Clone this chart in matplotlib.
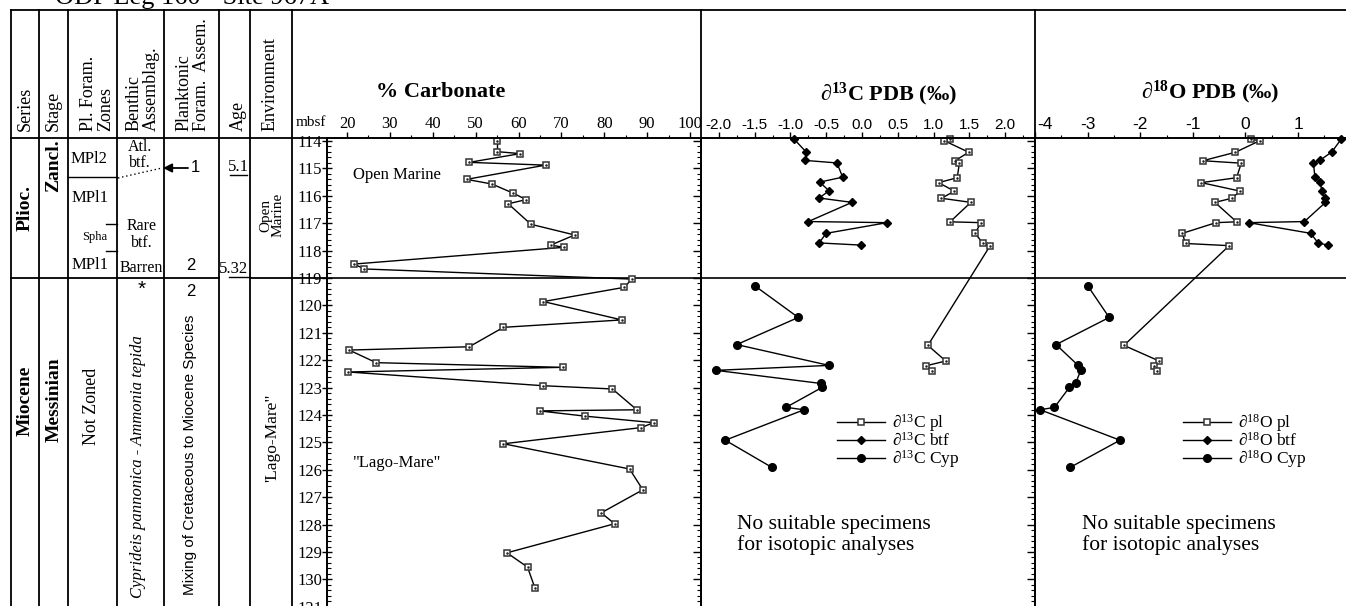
import matplotlib
matplotlib.use('Agg')
import matplotlib.pyplot as plt
from matplotlib.ticker import MultipleLocator, FormatStrFormatter, FuncFormatter

SERIF = ['Liberation Serif', 'DejaVu Serif']
SANS = ['Liberation Sans', 'DejaVu Sans']
plt.rcParams['font.family'] = SERIF
plt.rcParams['axes.unicode_minus'] = False
plt.rcParams['mathtext.fontset'] = 'custom'
plt.rcParams['mathtext.rm'] = 'Liberation Serif'
plt.rcParams['mathtext.it'] = 'Liberation Serif:italic'
plt.rcParams['mathtext.bf'] = 'Liberation Serif:bold'

# ---------------- data ----------------
carb_depth = [114.00, 114.39, 114.46, 114.78, 114.88, 115.40, 115.57, 115.90, 116.14, 116.29,
              117.04, 117.43, 117.80, 117.88, 118.49, 118.67, 119.04, 119.34, 119.86, 120.53,
              120.80, 121.51, 121.63, 122.09, 122.26, 122.43, 122.93, 123.05, 123.81, 123.85,
              124.04, 124.28, 124.46, 125.05, 125.97, 126.73, 127.57, 127.97, 129.03, 129.55,
              130.30]
carb_pct = [55.1, 55.1, 60.4, 48.5, 66.3, 47.9, 53.8, 58.7, 61.8, 57.6,
            62.9, 73.1, 67.5, 70.6, 21.7, 24.0, 86.4, 84.7, 65.8, 84.1,
            56.5, 48.5, 20.5, 26.8, 70.3, 20.3, 65.6, 81.9, 87.6, 64.9,
            75.4, 91.5, 88.6, 56.5, 85.9, 89.0, 79.3, 82.4, 57.3, 62.1,
            63.8]

pl_depth = [113.94, 113.99, 114.41, 114.72, 114.81, 115.34, 115.52, 115.83, 116.09, 116.24,
            116.95, 116.98, 117.37, 117.74, 117.82, 121.46, 122.03, 122.20, 122.38]
d13c_pl = [1.23, 1.15, 1.49, 1.30, 1.36, 1.33, 1.07, 1.29, 1.11, 1.52,
           1.23, 1.66, 1.58, 1.69, 1.79, 0.92, 1.17, 0.90, 0.98]
d18o_pl = [0.11, 0.27, -0.19, -0.81, -0.08, -0.17, -0.84, -0.10, -0.26, -0.58,
           -0.17, -0.56, -1.20, -1.14, -0.31, -2.31, -1.64, -1.74, -1.69]

btf_depth = [113.93, 114.40, 114.71, 114.80, 115.32, 115.50, 115.82, 116.08, 116.24, 116.94,
             116.98, 117.37, 117.72, 117.80]
d13c_btf = [-0.95, -0.78, -0.79, -0.35, -0.27, -0.59, -0.46, -0.60, -0.14, -0.75,
            0.35, -0.50, -0.60, -0.01]
d18o_btf = [1.82, 1.64, 1.41, 1.29, 1.32, 1.42, 1.45, 1.51, 1.52, 1.12,
            0.06, 1.24, 1.38, 1.57]

cyp_depth = [119.28, 120.44, 121.43, 122.19, 122.37, 122.85, 122.99, 123.72, 123.81, 124.92, 125.91]
d13c_cyp = [-1.50, -0.89, -1.75, -0.46, -2.04, -0.57, -0.555, -1.06, -0.81, -1.91, -1.26]
d18o_cyp = [-3.00, -2.59, -3.60, -3.18, -3.13, -3.23, -3.345, -3.63, -3.90, -2.385, -3.33]

boundary_depth = 119.0
carb_ticks = [20, 30, 40, 50, 60, 70, 80, 90, 100]

# ---------------- figure ----------------
W, H = 1346, 606
fig = plt.figure(figsize=(W / 100, H / 100), dpi=100)


def ax_px(l, r, t, b):
    return fig.add_axes([l / W, 1 - b / H, (r - l) / W, (b - t) / H])


tab = fig.add_axes([0, 0, 1, 1])
tab.set_xlim(0, W)
tab.set_ylim(H, 0)
tab.axis('off')

LW = 1.3
def hline(y, x0, x1, **kw):
    tab.plot([x0, x1], [y, y], color=kw.pop('color', 'k'), lw=kw.pop('lw', LW), **kw)


def vline(x, y0, y1, **kw):
    tab.plot([x, x], [y0, y1], color='k', lw=kw.pop('lw', LW), **kw)


# table frame
hline(10, 11, W)
hline(138, 11, 327)
for x in [11, 39, 68, 117, 164, 219, 250, 292]:
    vline(x, 10, H)
for x in [701, 1035]:
    vline(x, 10, 138)
hline(278, 11, 219)
hline(278, 250, 327)
hline(177, 68, 117, lw=1.0)
hline(224, 106, 117, lw=1.0)
hline(251, 106, 117, lw=1.0)
hline(174.5, 230, 247, lw=1.0)
hline(276.5, 229, 250, lw=1.0)
tab.plot([118, 162], [178, 168], color='k', lw=1.0, ls=(0, (1, 2)))
tab.annotate('', xy=(163, 168), xytext=(188, 168),
             arrowprops=dict(arrowstyle='-|>', color='k', lw=1.3, mutation_scale=13,
                             shrinkA=0, shrinkB=0))

# title (cut at top, as in the source figure)
tab.text(55, 4, 'ODP Leg 160 - Site 967A', fontsize=19, ha='left', va='baseline')

# headers
hdr = dict(rotation=90, ha='center', va='bottom', fontsize=13, multialignment='left',
           linespacing=1.05)
tab.text(25, 131, 'Series', **hdr)
tab.text(53, 131, 'Stage', **hdr)
tab.text(97, 131, 'Pl. Foram.\nZones', **hdr)
tab.text(143, 131, 'Benthic\nAssemblag.', **hdr)
tab.text(193, 131, 'Planktonic\nForam.  Assem.', **hdr)
tab.text(238, 131, 'Age', **hdr)
tab.text(270, 131, 'Environment', **hdr)

# body
rot = dict(rotation=90, ha='center', va='center')
tab.text(25, 208, 'Plioc.', fontsize=14, fontweight='bold', **rot)
tab.text(54, 166, 'Zancl.', fontsize=14, fontweight='bold', **rot)
tab.text(25, 401, 'Miocene', fontsize=14, fontweight='bold', **rot)
tab.text(54, 400, 'Messinian', fontsize=14, fontweight='bold', **rot)
tab.text(92, 406, 'Not Zoned', fontsize=13, **rot)
tab.text(138, 467, 'Cyprideis pannonica - Ammonia tepida', fontsize=12, style='italic', **rot)
tab.text(190, 455, 'Mixing of Cretaceous to Miocene Species', fontsize=11, family=SANS, **rot)
tab.text(272, 215, 'Open\nMarine', fontsize=11, linespacing=1.0, multialignment='center', **rot)
tab.text(272, 438, '\'Lago-Mare"', fontsize=12.5, **rot)

c = dict(ha='center', va='center')
tab.text(89, 159, 'MPl2', fontsize=12, **c)
tab.text(90, 198, 'MPl1', fontsize=12, **c)
tab.text(95, 237, 'Spha', fontsize=9, **c)
tab.text(90, 265, 'MPl1', fontsize=12, **c)
tab.text(140, 147, 'Atl.', fontsize=11.5, **c)
tab.text(140, 163, 'btf.', fontsize=11.5, **c)
tab.text(142, 226, 'Rare', fontsize=11.5, **c)
tab.text(142, 243, 'btf.', fontsize=11.5, **c)
tab.text(141, 268, 'Barren', fontsize=11.5, **c)
tab.text(142, 289, '*', fontsize=15, family=SANS, **c)
tab.text(195, 168, '1', fontsize=12, family=SANS, **c)
tab.text(191, 265, '2', fontsize=12, family=SANS, **c)
tab.text(191, 292, '2', fontsize=12, family=SANS, **c)
tab.text(238, 167, '5.1', fontsize=12, **c)
tab.text(234, 269, '5.32', fontsize=12, **c)
tab.text(311, 123, 'mbsf', fontsize=11, **c)

# ---------------- panels ----------------
TOP, BOT = 138, 610
ylim = (119 + (BOT - 278) / 27.4, 119 - (278 - TOP) / 27.4)

ax_c = ax_px(327, 701, TOP, BOT)
ax_13 = ax_px(701, 1035, TOP, BOT)
ax_18 = ax_px(1035, 1356, TOP, BOT)

ax_c.set_xlim(20 - 20 / 4.2875, 100 + 11 / 4.2875)
ax_13.set_xlim((701 - 862) / 71.6, (1035 - 862) / 71.6)
ax_18.set_xlim(-4.0, 2.1)

for ax in (ax_c, ax_13, ax_18):
    ax.set_facecolor('none')
    ax.set_ylim(*ylim)
    ax.spines['bottom'].set_visible(False)
    for s in ('top', 'left', 'right'):
        ax.spines[s].set_linewidth(1.4)
    ax.xaxis.tick_top()
    ax.tick_params(axis='x', which='major', direction='out', length=4, width=1,
                   top=True, bottom=False, labeltop=True, labelbottom=False, pad=0.5)
    ax.tick_params(axis='x', which='minor', direction='out', length=2.5, width=0.8,
                   top=True, bottom=False)
    ax.yaxis.set_major_locator(MultipleLocator(1))
    ax.yaxis.set_minor_locator(MultipleLocator(0.2))
    ax.axhline(boundary_depth, color='k', lw=1.2)

# carbonate axes
ax_c.set_xticks(carb_ticks)
ax_c.xaxis.set_minor_locator(MultipleLocator(5))
ax_c.tick_params(axis='x', labelsize=12)
ax_c.tick_params(axis='y', which='major', direction='inout', length=7, width=1,
                 left=True, right=False, labelleft=True, labelsize=12, pad=0)
ax_c.tick_params(axis='y', which='minor', direction='in', length=3, width=0.8,
                 left=True, right=False)
ax_c.yaxis.set_major_formatter(FormatStrFormatter('%d'))

for ax in (ax_13, ax_18):
    ax.tick_params(axis='y', which='major', direction='out', length=6, width=1,
                   left=True, right=False, labelleft=False)
    ax.tick_params(axis='y', which='minor', direction='out', length=3, width=0.8,
                   left=True, right=False)

ax_13.xaxis.set_major_locator(MultipleLocator(0.5))
ax_13.xaxis.set_minor_locator(MultipleLocator(0.25))
ax_13.xaxis.set_major_formatter(FormatStrFormatter('%.1f'))
ax_18.xaxis.set_major_locator(MultipleLocator(1))
ax_18.xaxis.set_minor_locator(MultipleLocator(0.5))
# the "-4" label sits at the panel edge; it is drawn shifted right separately
ax_18.xaxis.set_major_formatter(FuncFormatter(lambda v, p: '' if v <= -3.999 else '%d' % round(v)))
for lab in ax_13.get_xticklabels():
    lab.set_family(SANS)
    lab.set_fontsize(11)
ax_18.tick_params(axis='x', labelsize=12.5)
for lab in ax_18.get_xticklabels():
    lab.set_family(SANS)
fig.text(1045 / W, 1 - 124.5 / H, '-4', fontsize=12.5, family=SANS, ha='center', va='center')

# styles
sq = dict(marker='s', ms=5, mfc='white', mec='#333333', mew=1.1, color='k', lw=1.0)
dot = dict(marker='.', ms=1.6, color='#222222', ls='none')
dia = dict(marker='D', ms=3.6, mfc='k', mec='k', color='k', lw=1.0)
cir = dict(marker='o', ms=5.5, mfc='k', mec='k', color='k', lw=1.0)

ax_c.plot(carb_pct, carb_depth, **sq)
ax_c.plot(carb_pct, carb_depth, **dot)

h1 = ax_13.plot(d13c_pl, pl_depth, **sq)[0]
ax_13.plot(d13c_pl, pl_depth, **dot)
h2 = ax_13.plot(d13c_btf, btf_depth, **dia)[0]
h3 = ax_13.plot(d13c_cyp, cyp_depth, **cir)[0]

g1 = ax_18.plot(d18o_pl, pl_depth, **sq)[0]
ax_18.plot(d18o_pl, pl_depth, **dot)
g2 = ax_18.plot(d18o_btf, btf_depth, **dia)[0]
g3 = ax_18.plot(d18o_cyp, cyp_depth, **cir)[0]

for ax in (ax_13, ax_18):
    for ln in ax.lines:
        ln.set_clip_on(False)

# panel titles
fig.text(441 / W, 1 - 92 / H, '% Carbonate', fontsize=16, fontweight='bold', ha='center', va='center')
fig.text(889 / W, 1 - 94 / H, r'∂$^{\mathbf{13}}$C PDB (‰)', fontsize=16, fontweight='bold',
         ha='center', va='center')
fig.text(1210 / W, 1 - 92 / H, r'∂$^{\mathbf{18}}$O PDB (‰)', fontsize=16, fontweight='bold',
         ha='center', va='center')

# in-panel texts
fig.text(353 / W, 1 - 175 / H, 'Open Marine', fontsize=12, ha='left', va='center')
fig.text(353 / W, 1 - 463 / H, '"Lago-Mare"', fontsize=12, ha='left', va='center')
for x0 in (737, 1082):
    fig.text(x0 / W, 1 - 535 / H, 'No suitable specimens\nfor isotopic analyses', fontsize=15.5,
             ha='left', va='center', linespacing=1.05)

# legends
lfs = 12.5
lpx = lfs * 100 / 72
leg_kw = dict(loc='upper left', frameon=False, borderpad=0, borderaxespad=0,
              handlelength=48 / lpx, handletextpad=7 / lpx, labelspacing=-0.1,
              prop={'family': SERIF, 'size': lfs}, bbox_transform=fig.transFigure)
ax_13.legend([h1, h2, h3], ['∂$^{13}$C pl', '∂$^{13}$C btf', '∂$^{13}$C Cyp'],
             bbox_to_anchor=(837 / W, 1 - 412 / H), **leg_kw)
ax_18.legend([g1, g2, g3], ['∂$^{18}$O pl', '∂$^{18}$O btf', '∂$^{18}$O Cyp'],
             bbox_to_anchor=(1183 / W, 1 - 412 / H), **leg_kw)

fig.savefig('out.png', dpi=100)
